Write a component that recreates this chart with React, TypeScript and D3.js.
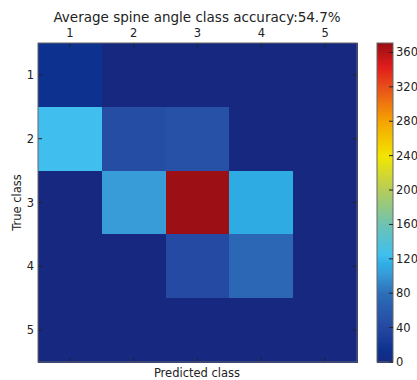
import * as React from "react";
import * as d3 from "d3";

const classes = ["1", "2", "3", "4", "5"];
// rows = true class, columns = predicted class
const counts = [
  [14, 0, 0, 0, 0],
  [126, 46, 50, 0, 0],
  [0, 104, 371, 113, 0],
  [0, 0, 43, 74, 0],
  [0, 0, 0, 0, 0],
];
const cbarTicks = [0, 40, 80, 120, 160, 200, 240, 280, 320, 360];
const colorStops = [
  [0, "#172881"],
  [14, "#0c318e"],
  [40, "#2447a1"],
  [80, "#2c6db7"],
  [104, "#389cd8"],
  [113, "#2eabe3"],
  [126, "#40bfee"],
  [160, "#6cc3b4"],
  [200, "#b4cb5c"],
  [240, "#f2e600"],
  [280, "#f5a500"],
  [320, "#e8501a"],
  [345, "#e01b1b"],
  [371, "#9b0f15"],
] as [number, string][];

const App = () => {
  const width = 417;
  const height = 380;
  const plot = { x0: 38, x1: 357, y0: 43, y1: 362 };
  const cbar = { x0: 377, x1: 393 };
  const vmax = 371;

  const color = d3
    .scaleLinear<string>()
    .domain(colorStops.map((d) => d[0]))
    .range(colorStops.map((d) => d[1]))
    .interpolate(d3.interpolateRgb)
    .clamp(true);

  const x = d3.scaleBand().domain(classes).range([plot.x0, plot.x1]);
  const y = d3.scaleBand().domain(classes).range([plot.y0, plot.y1]);
  const cy = d3.scaleLinear().domain([0, vmax]).range([plot.y1, plot.y0]);

  const cells = [];
  counts.forEach((row, i) => {
    row.forEach((v, j) => {
      cells.push(
        <rect
          key={i + "-" + j}
          x={x(classes[j])}
          y={y(classes[i])}
          width={x.bandwidth() + 1}
          height={y.bandwidth() + 1}
          fill={color(v)}
          shapeRendering="crispEdges"
        />
      );
    });
  });

  // colorbar strips
  const strips = d3.range(0, vmax, 1).map((v) => (
    <rect
      key={"s" + v}
      x={cbar.x0}
      y={cy(Math.min(v + 1, vmax))}
      width={cbar.x1 - cbar.x0}
      height={cy(v) - cy(Math.min(v + 1, vmax)) + 1}
      fill={color(v + 0.5)}
      shapeRendering="crispEdges"
    />
  ));

  const font = "'DejaVu Sans', sans-serif";
  const tickCol = "#222";

  return (
    <svg
      width={width}
      height={height}
      style={{ position: "absolute", left: 0, top: 0, background: "#fff" }}
      fontFamily={font}
    >
      <text x={197} y={22} textAnchor="middle" fontSize={13.5} fill="#222">
        Average spine angle class accuracy:54.7%
      </text>
      {cells}
      {classes.map((c) => {
        const cx = x(c) + x.bandwidth() / 2;
        const cyy = y(c) + y.bandwidth() / 2;
        return (
          <g key={"t" + c}>
            <line x1={cx} x2={cx} y1={plot.y0} y2={plot.y0 + 4} stroke={tickCol} />
            <line x1={cx} x2={cx} y1={plot.y1} y2={plot.y1 - 4} stroke={tickCol} />
            <line x1={plot.x0} x2={plot.x0 + 4} y1={cyy} y2={cyy} stroke={tickCol} />
            <line x1={plot.x1} x2={plot.x1 - 4} y1={cyy} y2={cyy} stroke={tickCol} />
            <text x={cx} y={37} textAnchor="middle" fontSize={11.5} fill="#222">
              {c}
            </text>
            <text x={34} y={cyy + 4} textAnchor="end" fontSize={11.5} fill="#222">
              {c}
            </text>
          </g>
        );
      })}
      <rect
        x={plot.x0}
        y={plot.y0}
        width={plot.x1 - plot.x0}
        height={plot.y1 - plot.y0}
        fill="none"
        stroke="#666"
        strokeWidth={1}
      />
      <text x={197} y={377} textAnchor="middle" fontSize={11.5} fill="#222">
        Predicted class
      </text>
      <text
        transform={`translate(21,${(plot.y0 + plot.y1) / 2}) rotate(-90)`}
        textAnchor="middle"
        fontSize={11.5}
        fill="#222"
      >
        True class
      </text>
      {strips}
      <rect
        x={cbar.x0}
        y={plot.y0}
        width={cbar.x1 - cbar.x0}
        height={plot.y1 - plot.y0}
        fill="none"
        stroke="#666"
      />
      {cbarTicks.map((t) => (
        <g key={"c" + t}>
          <line x1={cbar.x1 - 4} x2={cbar.x1} y1={cy(t)} y2={cy(t)} stroke={tickCol} />
          <text x={cbar.x1 + 3} y={cy(t) + 4} fontSize={11.5} fill="#222">
            {t}
          </text>
        </g>
      ))}
    </svg>
  );
};

export default App;
